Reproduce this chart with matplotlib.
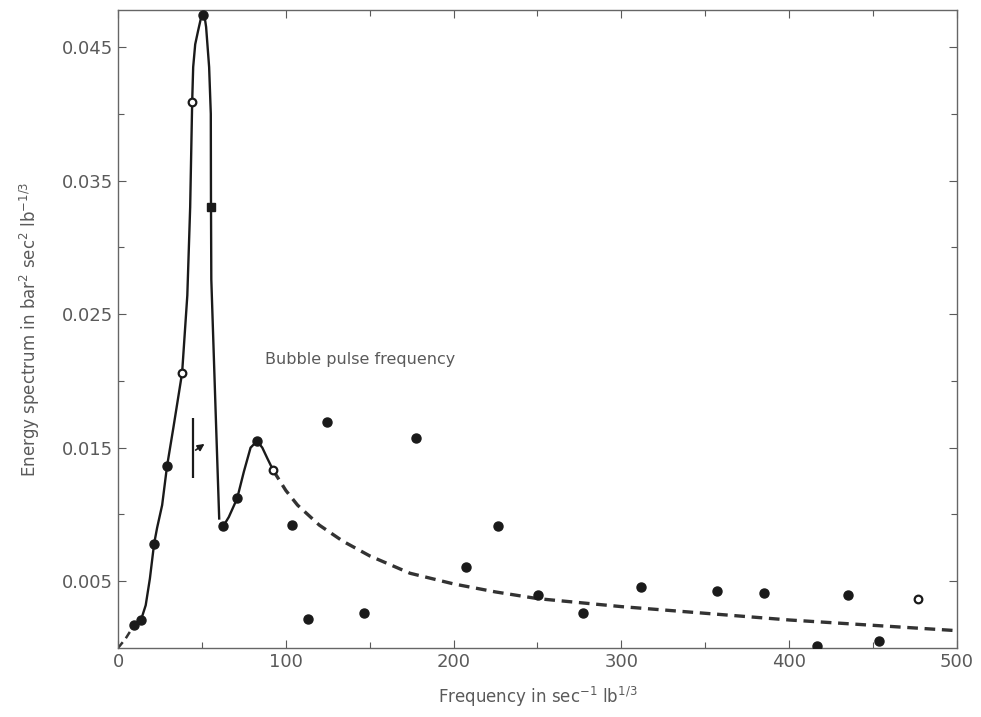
import numpy as np
import matplotlib
matplotlib.use("Agg")
import matplotlib.pyplot as plt
from matplotlib.ticker import MultipleLocator, FixedLocator

# measured points (frequency, energy spectrum)
filled_x = [9.5, 13.7, 21.5, 29.2, 50.7, 62.6, 71.0, 82.9, 103.8, 113.3, 124.7,
            146.8, 177.8, 207.6, 226.7, 250.6, 277.4, 311.5, 356.8, 384.8,
            416.5, 435.0, 453.5]
filled_y = [0.0017, 0.0021, 0.0078, 0.0136, 0.0474, 0.0091, 0.0112, 0.0155,
            0.0092, 0.0022, 0.0169, 0.0026, 0.0157, 0.0061, 0.0091, 0.0040,
            0.0026, 0.0046, 0.0043, 0.0041, 0.00015, 0.0040, 0.0005]
open_x = [38.2, 44.2, 92.5, 476.7]
open_y = [0.0206, 0.0409, 0.0133, 0.0037]
square_x = [55.5]
square_y = [0.0330]

# traced curves
solid_x = [9.5, 13.7, 16.5, 19.0, 21.5, 23.3, 26.3, 29.2, 33.0, 38.2, 41.3,
           43.0, 44.2, 44.8, 46.0, 47.7, 49.5, 50.7, 51.8, 52.5, 54.3, 55.3,
           55.4, 55.6, 58.1, 60.3]
solid_y = [0.0017, 0.0021, 0.0032, 0.0052, 0.0078, 0.0090, 0.0107, 0.0136,
           0.0165, 0.0206, 0.0264, 0.0330, 0.0409, 0.0435, 0.0452, 0.0462,
           0.0472, 0.0474, 0.0471, 0.0465, 0.0435, 0.0400, 0.0336, 0.0276,
           0.0180, 0.0097]
bump_x = [61.5, 62.6, 66.0, 71.0, 75.0, 79.0, 82.9, 86.0, 89.0, 92.5]
bump_y = [0.0093, 0.0091, 0.0098, 0.0112, 0.0132, 0.0150, 0.0155, 0.0150,
          0.0142, 0.0133]
dash_x = [92.5, 100, 107, 120, 134, 150, 174, 200, 225, 250, 300, 350, 400,
          450, 500]
dash_y = [0.0133, 0.0118, 0.0107, 0.0092, 0.0080, 0.0069, 0.0056, 0.0048,
          0.0042, 0.0037, 0.0031, 0.0026, 0.0021, 0.0017, 0.0013]
start_x = [0, 4.5, 9.5]
start_y = [0, 0.0007, 0.0017]

bubble_x = 44.9
bubble_y = (0.0127, 0.0172)

fig = plt.figure(figsize=(9.81, 7.17), dpi=100)
ax = fig.add_axes([0.1203, 0.0962, 0.8552, 0.8904])

ink = "#1a1a1a"
grey = "#5a5a5a"

ax.plot(start_x, start_y, color="#333333", lw=1.8, ls=(0, (3, 2)))
ax.plot(solid_x, solid_y, color=ink, lw=1.7)
ax.plot(bump_x, bump_y, color=ink, lw=1.7)
ax.plot(dash_x, dash_y, color="#333333", lw=2.4, ls=(0, (3.2, 2.0)))

ax.plot(filled_x, filled_y, "o", color=ink, ms=6.5, zorder=5)
ax.plot(open_x, open_y, "o", mfc="white", mec=ink, mew=1.6, ms=5.5, zorder=5)
ax.plot(square_x, square_y, "s", color=ink, ms=5.5, zorder=5)

# bubble pulse marker
ax.vlines(bubble_x, *bubble_y, color=ink, lw=1.6)
ax.annotate("", xy=(bubble_x + 8, 0.0154), xytext=(bubble_x, 0.0147),
            arrowprops=dict(arrowstyle="-|>", color=ink, lw=1.2,
                            mutation_scale=10))
ax.text(87.5, 0.0216, "Bubble pulse frequency", color=grey, fontsize=11.5,
        va="center")

ax.set_xlim(0, 500)
ax.set_ylim(0, 0.0478)
ax.xaxis.set_major_locator(MultipleLocator(100))
ax.xaxis.set_minor_locator(MultipleLocator(50))
ax.yaxis.set_major_locator(FixedLocator([0.005, 0.015, 0.025, 0.035, 0.045]))
ax.yaxis.set_minor_locator(FixedLocator([0.01, 0.02, 0.03, 0.04]))
ax.set_yticklabels(["0.005", "0.015", "0.025", "0.035", "0.045"])
ax.tick_params(which="both", direction="in", top=True, right=True,
               colors=grey, labelsize=13, labelcolor=grey, width=0.8)
ax.tick_params(which="major", length=6)
ax.tick_params(which="minor", length=4)
for sp in ax.spines.values():
    sp.set_color("#666666")
    sp.set_linewidth(1.0)

ax.set_xlabel(r"Frequency in sec$^{-1}$ lb$^{1/3}$", color=grey, fontsize=12,
              labelpad=10)
ax.set_ylabel(r"Energy spectrum in bar$^2$ sec$^2$ lb$^{-1/3}$", color=grey,
              fontsize=12, labelpad=14)

fig.savefig("out.png", dpi=100)
